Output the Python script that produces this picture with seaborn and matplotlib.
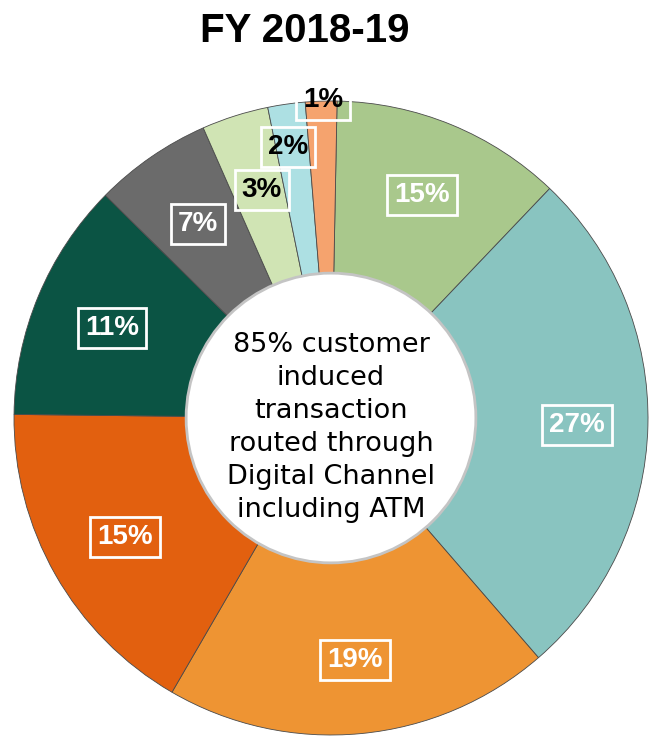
import matplotlib
matplotlib.use("Agg")
import matplotlib.pyplot as plt
import seaborn as sns

# Printed labels, clockwise from 12 o'clock
labels = ["15%", "27%", "19%", "15%", "11%", "7%", "3%", "2%", "1%"]
# Arc shares as drawn in the picture (in %)
arc_shares = [11.8, 26.5, 19.7, 16.8, 12.2, 6.0, 3.4, 1.9, 1.6]
slice_colors = ["#A9C88C", "#89C4C0", "#EE9433", "#E2600F", "#0B5444",
                "#6B6B6B", "#D0E4B4", "#ADE0E3", "#F5A36E"]
text_colors = ["white", "white", "white", "white", "white",
               "white", "black", "black", "black"]
# label centres in ring units (centre 0,0, outer radius 1)
label_pos = [(0.287, 0.703), (0.776, -0.022), (0.076, -0.763),
             (-0.650, -0.375), (-0.691, 0.284), (-0.420, 0.612),
             (-0.218, 0.719), (-0.136, 0.855), (-0.025, 1.003)]

title = "FY 2018-19"
centre_text = ("85% customer\ninduced\ntransaction\nrouted through\n"
               "Digital Channel\nincluding ATM")

sns.set_theme(style="white")
plt.rcParams["font.family"] = ["Liberation Sans", "DejaVu Sans"]

fig = plt.figure(figsize=(6.54, 7.42), dpi=100)
ax = fig.add_axes([14 / 654, 1 - 735 / 742, 634 / 654, 634 / 742])

ax.pie(
    arc_shares,
    colors=slice_colors,
    startangle=88.9,
    counterclock=False,
    radius=1.0,
    wedgeprops=dict(width=0.543, edgecolor="#4a4a4a", linewidth=0.6),
)
ax.set_xlim(-1, 1)
ax.set_ylim(-1, 1)
ax.axis("off")

# soft shadow round the hole
hole = plt.Circle((0, 0), 0.457, facecolor="white", edgecolor="#c4c4c4",
                  linewidth=2, zorder=3)
ax.add_patch(hole)

for lab, (x, y), tc in zip(labels, label_pos, text_colors):
    ax.text(x, y, lab, ha="center", va="center", fontsize=20,
            fontweight="bold", color=tc, zorder=5,
            bbox=dict(boxstyle="square,pad=0.26", facecolor="none",
                      edgecolor="white", linewidth=2))

ax.text(0, -0.03, centre_text, ha="center", va="center", fontsize=19.5,
        color="black", linespacing=1.35, zorder=5,
        family=["DejaVu Sans"])

fig.text(305 / 654, 1 - 31 / 742, title, ha="center", va="center",
         fontsize=29, fontweight="bold", color="black")

fig.savefig("out.png", dpi=100)
plt.close(fig)
